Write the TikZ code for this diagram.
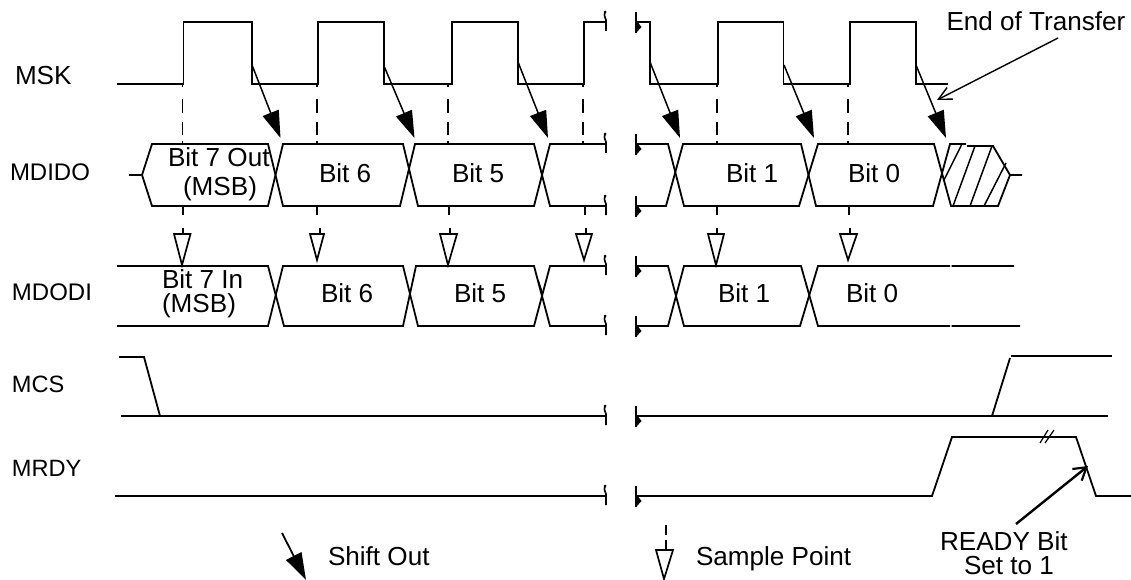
\documentclass[tikz,border=0pt]{standalone}
\usepackage{fontspec}
\setmainfont{Liberation Sans}
\usetikzlibrary{arrows.meta}
\tikzset{
  wave/.style={line width=1.8pt,line cap=butt,line join=miter,black},
  thin wave/.style={line width=1.5pt,black},
  shiftarrow/.style={line width=1.5pt,black,-{Triangle[length=27pt,width=17pt,fill=black]}},
  sampletri/.style={line width=1.7pt,fill=white,draw=black,line join=miter},
  txt/.style={inner sep=0pt,outer sep=0pt,anchor=base west,text=black},
  big/.style={txt,font=\fontsize{26.1}{30}\selectfont},
  lab/.style={txt,font=\fontsize{23.6}{28}\selectfont},
}
\newcommand{\brkmark}[1]{%
  \draw[line width=1.6pt] (605,#1-10) .. controls (603,#1-5) and (607,#1-3) .. (606,#1) -- (606,#1+9);
  \fill (605,#1-10) circle (1.5pt);
  \draw[line width=1.4pt] (636,#1-10) -- (636,#1+11);
  \fill (636,#1-2) -- (641.5,#1+5) -- (636,#1+11) -- cycle;
}
\newcommand{\sampledash}[3]{%
  \draw[wave] (#1,85) -- (#1,87) (#1,99) -- (#1,113) (#1,122) -- (#1,135) (#1,141) -- (#1,144);
  \draw[wave] (#2,206) -- (#2,215) (#3,228) -- (#3,234);
}
\begin{document}
\begin{tikzpicture}[x=1pt,y=-1pt]
\useasboundingbox (0,0) rectangle (1131,580);
% labels
\node[big] (lmsk) at (15,84.7) {MSK};
\node[lab,font=\fontsize{24}{28}\selectfont] (lmdido) at (10,180.7) {MDIDO};
\node[lab,font=\fontsize{24}{28}\selectfont] (lmdodi) at (12,300.7) {MDODI};
\node[lab] (lmcs) at (12,392.7) {MCS};
\node[lab] (lmrdy) at (12,476.7) {MRDY};
% MSK
\draw[wave] (117,84) -- (183.5,84) -- (183.5,22) -- (252,22) -- (252,84) -- (318,84) -- (318,22) -- (384,22) -- (384,84) -- (452,84) -- (452,22) -- (518,22) -- (518,84) -- (584,84) -- (584,22) -- (606,22);
\draw[wave] (636,22) -- (650,22) -- (650,84) -- (718,84) -- (718,22) -- (783.5,22) -- (783.5,84) -- (850,84) -- (850,22) -- (916,22) -- (916,84) -- (948,84);
% sample dashes
\sampledash{182.5}{183}{183}
\sampledash{316.7}{317}{320}
\sampledash{448}{449}{450}
\sampledash{583}{585}{586}
\sampledash{717}{717}{717}
\sampledash{848}{849}{850}
% shift arrows
\draw[shiftarrow] (252,65) -- (280.5,138);
\draw[shiftarrow] (384,66) -- (414.5,138);
\draw[shiftarrow] (518,62) -- (548,138);
\draw[shiftarrow] (650,62) -- (680,138);
\draw[shiftarrow] (784,65) -- (814,138);
\draw[shiftarrow] (916,65) -- (946,138);
% MDIDO
\draw[wave] (129,175) -- (142,175) -- (152,144) -- (268,144) -- (283,206) -- (400,206) -- (415,144) -- (534,144) -- (550,206) -- (606,206);
\draw[wave] (142,175) -- (152,206) -- (268,206) -- (283,144) -- (403,144) -- (418,206) -- (534,206) -- (550,144) -- (606,144);
\draw[wave] (636,144) -- (668,144) -- (684,206) -- (799,206) -- (818,144) -- (934,144) -- (951,206) -- (998,206) -- (1010,175) -- (1022,175);
\draw[wave] (636,206) -- (666,206) -- (683,144) -- (801,144) -- (816,206) -- (933,206) -- (950,144) -- (966,144);
\draw[wave] (967,146) -- (993,146) -- (1010,175);
\draw[thin wave] (962,144) -- (944,180) (975,146) -- (953,206) (992,146) -- (970,206) (1006,163) -- (984,206);
% MDODI
\draw[wave] (117,266) -- (268,266) -- (284,326) -- (403,326) -- (416,266) -- (534,266) -- (550,326) -- (606,326);
\draw[wave] (117,326) -- (268,326) -- (283,266) -- (403,266) -- (418,326) -- (534,326) -- (550,266) -- (606,266);
\draw[wave] (636,266) -- (668,266) -- (684,326) -- (800,326) -- (818,266) -- (950,266) (951.5,266) -- (1014,266);
\draw[wave] (636,326) -- (668,326) -- (684,266) -- (801,266) -- (818,326) -- (950,326) (951.5,326) -- (1020,326);
\draw[line width=1.5pt] (538,280) -- (542,292);
% triangles
\draw[sampletri] (174,234) -- (190.5,234) -- (182,265) -- cycle;
\draw[sampletri] (310,234) -- (324,234) -- (317,260) -- cycle;
\draw[sampletri] (440,234) -- (457,234) -- (448,265) -- cycle;
\draw[sampletri] (576,234) -- (592,234) -- (584,260) -- cycle;
\draw[sampletri] (708,234) -- (724,234) -- (716,265) -- cycle;
\draw[sampletri] (840,234) -- (857,234) -- (848,260) -- cycle;
% MCS
\draw[wave] (119,357) -- (144,357) -- (160,416);
\draw[wave] (121,416) -- (606,416);
\draw[wave] (636,416) -- (1108,416);
\draw[wave] (992,416) -- (1010,358);
\draw[wave] (1011,356) -- (1112,356);
% MRDY
\draw[wave] (115,496) -- (606,496);
\draw[wave] (636,496) -- (932,496) -- (952,437) -- (1076,437) -- (1096,496) -- (1131,496);
\draw[line width=1.2pt] (1040,443) -- (1048,430) (1045,443) -- (1054,430);
% breaks
\foreach \r in {22,144,206,266,326,416,496} {\brkmark{\r}}
% annotations
\node[big] (eot) at (946.5,30.7) {End of Transfer};
\coordinate (eotfrom) at (1058,38);
\coordinate (eotto) at (937,100);
\draw[line width=1.4pt,-{Straight Barb[length=13pt,width=13pt,line width=1.4pt]}] (eotfrom) -- (eotto);
\node[big] (ready) at (940,550) {READY Bit};
\node[big] (setone) at (964,574) {Set to 1};
\coordinate (rdyfrom) at (1016,524);
\coordinate (rdyto) at (1088,466);
\draw[line width=2.4pt,-{Straight Barb[length=12pt,width=15pt,line width=2.2pt]}] (rdyfrom) -- (rdyto);
% bit labels
\node[big] (b7o) at (168,166.7) {Bit 7 Out};
\node[big] (b7om) at (183,195) {(MSB)};
\node[big] (o6) at (319,182.5) {Bit 6};
\node[big] (o5) at (452,182.5) {Bit 5};
\node[big] (o1) at (726,182.5) {Bit 1};
\node[big] (o0) at (848,182.5) {Bit 0};
\node[big] (b7i) at (162,288) {Bit 7 In};
\node[big] (b7im) at (162,312) {(MSB)};
\node[big] (i6) at (321,302.5) {Bit 6};
\node[big] (i5) at (454,302.5) {Bit 5};
\node[big] (i1) at (718,302.5) {Bit 1};
\node[big] (i0) at (846,302.5) {Bit 0};
% legend
\draw[line width=1.8pt,-{Triangle[length=27pt,width=17pt,fill=black]}] (282,533) -- (306,580);
\node[big] (shiftlab) at (328,565) {Shift Out};
\draw[wave] (666,525) -- (666,535) (666,540) -- (666,550);
\draw[sampletri] (656,550) -- (673,550) -- (664,579) -- cycle;
\node[big] (samplelab) at (696,565) {Sample Point};
\end{tikzpicture}
\end{document}
